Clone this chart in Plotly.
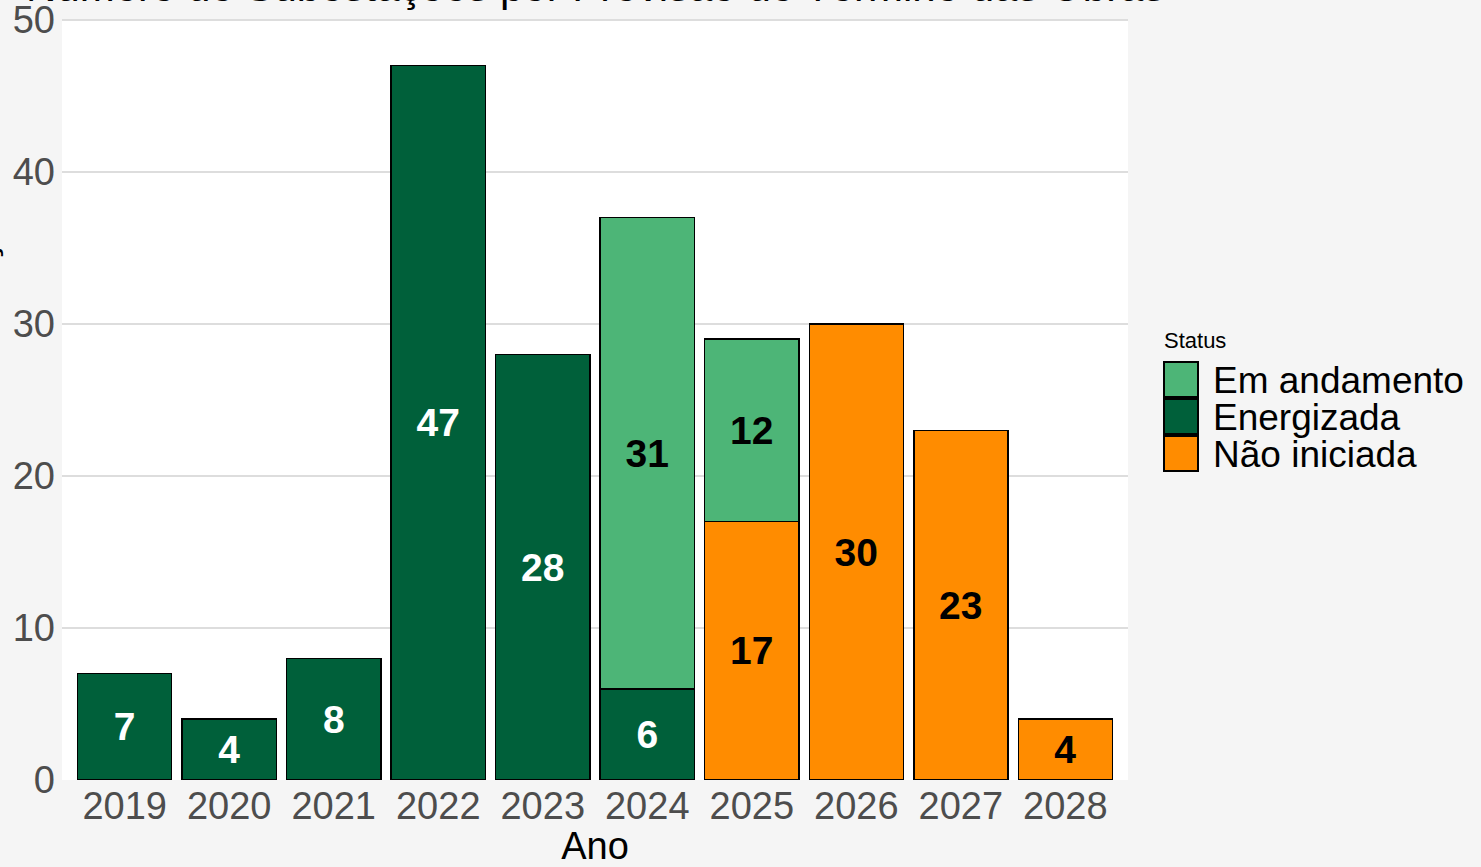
import plotly.graph_objects as go

anos = ["2019", "2020", "2021", "2022", "2023", "2024", "2025", "2026", "2027", "2028"]
nao_iniciada = [None, None, None, None, None, None, 17, 30, 23, 4]
energizada = [7, 4, 8, 47, 28, 6, None, None, None, None]
em_andamento = [None, None, None, None, None, 31, 12, None, None, None]

status_legenda = ["Em andamento", "Energizada", "Não iniciada"]
y_ticks = [0, 10, 20, 30, 40, 50]

FONT = "Liberation Sans, Arial, sans-serif"
C_AND = "#4DB577"
C_ENE = "#00603A"
C_NAO = "#FF8C00"
cores = {"Em andamento": C_AND, "Energizada": C_ENE, "Não iniciada": C_NAO}

W, H = 1481, 867
ML, MR, MT, MB = 62, 353, 19, 87
PW, PH = W - ML - MR, H - MT - MB

def px_x(px):
    return (px - ML) / PW

def px_y(py):
    return (H - MB - py) / PH

fig = go.Figure()

def add(name, vals, txtcolor):
    fig.add_trace(go.Bar(
        x=anos, y=vals, name=name,
        marker=dict(color=cores[name], line=dict(color="black", width=1.5)),
        texttemplate="<b>%{y}</b>", textposition="inside",
        insidetextanchor="middle", textangle=0, constraintext="none",
        textfont=dict(family=FONT, size=39, color=txtcolor),
        width=0.9, showlegend=False,
    ))

add("Não iniciada", nao_iniciada, "black")
add("Energizada", energizada, "white")
add("Em andamento", em_andamento, "black")

fig.update_layout(
    width=W, height=H,
    barmode="stack",
    paper_bgcolor="#F5F5F5",
    plot_bgcolor="white",
    margin=dict(l=ML, r=MR, t=MT, b=MB, autoexpand=False),
    font=dict(family=FONT, color="black"),
    showlegend=False,
    xaxis=dict(
        range=[-0.6, 9.6], showgrid=False, zeroline=False, showline=False, ticks="",
        tickfont=dict(size=38, color="#4D4D4D"),
        title=dict(text="Ano", font=dict(size=38, color="black"), standoff=4),
    ),
    yaxis=dict(
        range=[0, 50.07], tickvals=y_ticks,
        showgrid=True, gridcolor="#DDDDDD", gridwidth=1.5,
        zeroline=False, showline=False, ticks="",
        ticklabeloverflow="allow", ticklabelstandoff=6,
        tickfont=dict(size=38, color="#4D4D4D"),
    ),
)

# Legend (drawn with shapes + text to match key sizes)
fig.add_annotation(
    text="Status", xref="paper", yref="paper", x=px_x(1162), y=px_y(340),
    xanchor="left", yanchor="middle", showarrow=False,
    font=dict(size=22, color="black", family=FONT),
)
for i, nome in enumerate(status_legenda):
    top = 362 + i * 37
    fig.add_shape(
        type="rect", xref="paper", yref="paper",
        x0=px_x(1164), x1=px_x(1198), y0=px_y(top + 35), y1=px_y(top),
        fillcolor=cores[nome], line=dict(color="black", width=2),
    )
    fig.add_annotation(
        text=nome, xref="paper", yref="paper", x=px_x(1211), y=px_y(top + 18),
        xanchor="left", yanchor="middle", showarrow=False,
        font=dict(size=37, color="black", family=FONT),
    )

# Title and y-axis title, cut off at the edges as in the reference
fig.add_annotation(
    text="Número de Subestações por Previsão de Término das Obras",
    xref="paper", yref="paper", x=0.5, y=1, xanchor="center", yanchor="bottom",
    yshift=7, showarrow=False, font=dict(size=42, color="black", family=FONT),
)
fig.add_annotation(
    text="Número de Subestações",
    xref="paper", yref="paper", x=0, y=0.5, xanchor="right", yanchor="middle",
    xshift=-58, textangle=-90, showarrow=False,
    font=dict(size=40, color="black", family=FONT),
)

fig.write_html("out.html", config={"displayModeBar": False},
               post_script="document.body.style.margin='0';")
